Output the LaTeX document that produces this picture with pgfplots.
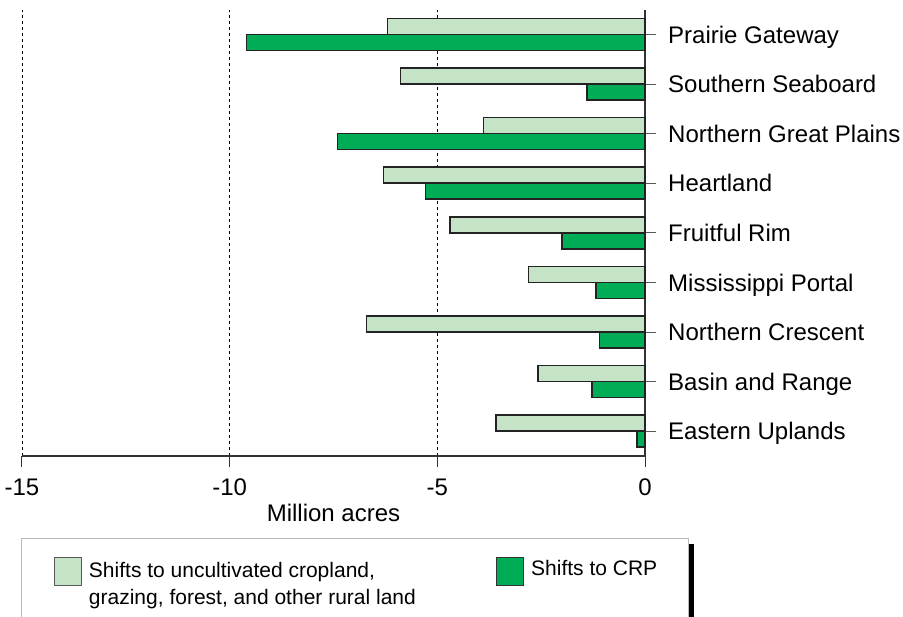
\documentclass[border=0pt]{standalone}
\usepackage{pgfplots}
\pgfplotsset{compat=1.18}
\usepackage{fontspec}
\setmainfont{Liberation Sans}
\definecolor{lightg}{RGB}{197,227,199}
\definecolor{darkg}{RGB}{0,173,86}
\definecolor{edge}{RGB}{35,35,35}
\begin{document}
\begin{tikzpicture}[x=1pt,y=1pt]
\useasboundingbox (0,0) rectangle (903,617);
% legend frame and shadow
\fill[black] (688,-20) rectangle (694,73);
\draw[gray!55, line width=1pt, fill=white] (21,-20) rectangle (688,78);
\begin{axis}[
  at={(22pt,161pt)}, anchor=south west,
  scale only axis, width=623pt, height=446.4pt,
  xmin=-15, xmax=0, ymin=-0.5, ymax=8.5,
  axis x line=bottom, axis y line=right,
  axis line style={-, line width=1.5pt, color=black!80},
  xtick={-15,-10,-5,0}, xticklabels={-15,-10,-5,0},
  ytick={0,...,8},
  yticklabels={Eastern Uplands, Basin and Range, Northern Crescent, Mississippi Portal, Fruitful Rim, Heartland, Northern Great Plains, Southern Seaboard, Prairie Gateway},
  tick align=outside, major tick length=10.7pt,
  xtick style={line width=1pt, black!80},
  ytick style={line width=0.9pt, black!65},
  xmajorgrids, grid style={dash pattern=on 3pt off 3pt, black, line width=0.8pt},
  ticklabel style={font=\fontsize{24}{28}\selectfont},
  yticklabel style={anchor=base west, xshift=9pt, yshift=-8.8pt},
  xticklabel style={yshift=-8.5pt},
  xlabel={Million acres},
  xlabel style={font=\fontsize{24}{28}\selectfont, anchor=center, at={(axis description cs:0.5,-0.128)}},
  clip=false,
  legend columns=2,
  legend style={at={(axis description cs:0.0507,-0.2255)}, anchor=north west, draw=none, fill=none, inner sep=0pt,
    font=\fontsize{21}{27}\selectfont, nodes={inner sep=0pt},
    /tikz/every odd column/.append style={column sep=6.8pt}},
  legend cell align=left,
]
\addplot[xbar, bar width=16pt, bar shift=8pt, fill=lightg, draw=edge, line width=1.5pt,
  legend image code/.code={\draw[fill=lightg, draw=gray!70!black, line width=1pt] (0pt,-17.5pt) rectangle (27.4pt,11.1pt);}]
  coordinates {(-3.59,0) (-2.58,1) (-6.70,2) (-2.80,3) (-4.70,4) (-6.30,5) (-3.89,6) (-5.89,7) (-6.20,8)};
\addlegendentry{\makebox[407pt][l]{\begin{tabular}[t]{@{}l@{}}Shifts to uncultivated cropland,\\grazing, forest, and other rural land\end{tabular}}}
\addplot[xbar, bar width=16pt, bar shift=-8pt, fill=darkg, draw=edge, line width=1.5pt,
  legend image code/.code={\draw[fill=darkg, draw=black!80, line width=1pt] (0pt,-17.5pt) rectangle (27.4pt,11.1pt);}]
  coordinates {(-0.19,0) (-1.28,1) (-1.09,2) (-1.18,3) (-2.00,4) (-5.29,5) (-7.40,6) (-1.40,7) (-9.60,8)};
\addlegendentry{Shifts to CRP}
\end{axis}
\end{tikzpicture}
\end{document}
